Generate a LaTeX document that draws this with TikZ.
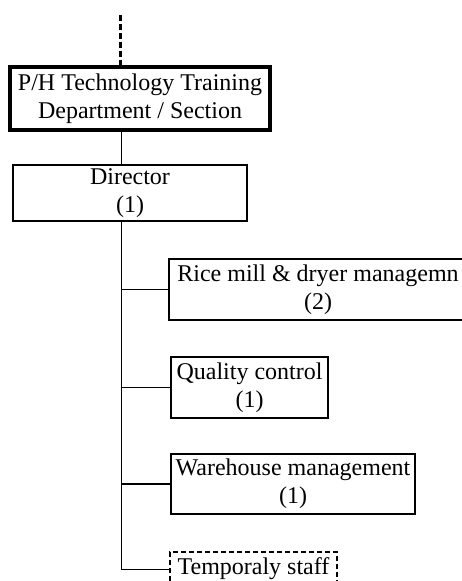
\documentclass[tikz,border=0pt]{standalone}
\usepackage{fontspec}
\setmainfont{Liberation Serif}
\usetikzlibrary{positioning}

\tikzset{
  unitbox/.style={draw=black, line width=1.7pt, align=center, inner sep=0pt,
    font=\fontsize{24}{28}\selectfont},
  headbox/.style={unitbox, line width=3.5pt},
  tempbox/.style={unitbox, dashed, dash pattern=on 5pt off 3pt, line width=2.5pt},
  link/.style={draw=black, line width=1.7pt}
}

\begin{document}
\begin{tikzpicture}[x=1pt, y=-1pt]
\useasboundingbox (0,0) rectangle (462,581);

% Department
\node[headbox, minimum width=260pt, minimum height=63pt] (dept) at (140,98.5)
  {P/H Technology Training\\Department / Section};
\coordinate (above) at (120.5,15);
\draw[link, line width=3pt, dash pattern=on 6pt off 3pt] (above) -- (above |- dept.north);

% Director
\node[unitbox, minimum width=234pt, minimum height=56pt] (dir) at (130,193)
  {Director\\(1)};
\draw[link] (dept.south -| 121.5,0) -- (dir.north -| 121.5,0);

% Sections
\node[unitbox, minimum width=298pt, minimum height=61pt] (rice) at (318,289.5)
  {Rice mill \& dryer managemn\\(2)};
\node[unitbox, minimum width=157pt, minimum height=61pt] (qc) at (249.5,387.5)
  {Quality control\\(1)};
\node[unitbox, minimum width=244pt, minimum height=60pt] (ware) at (293,484)
  {Warehouse management\\(1)};
\node[tempbox, minimum width=167pt, minimum height=34pt] (temp) at (253.5,569)
  {Temporaly staff};

% Trunk and branches
\coordinate (trunk) at (121.5,569.5);
\draw[link] (dir.south -| trunk) -- (trunk) -- (trunk -| temp.west);
\draw[link] (trunk |- rice.west) -- (rice.west);
\draw[link] (trunk |- qc.west) -- (qc.west);
\draw[link] (trunk |- ware.west) -- (ware.west);
\end{tikzpicture}
\end{document}
